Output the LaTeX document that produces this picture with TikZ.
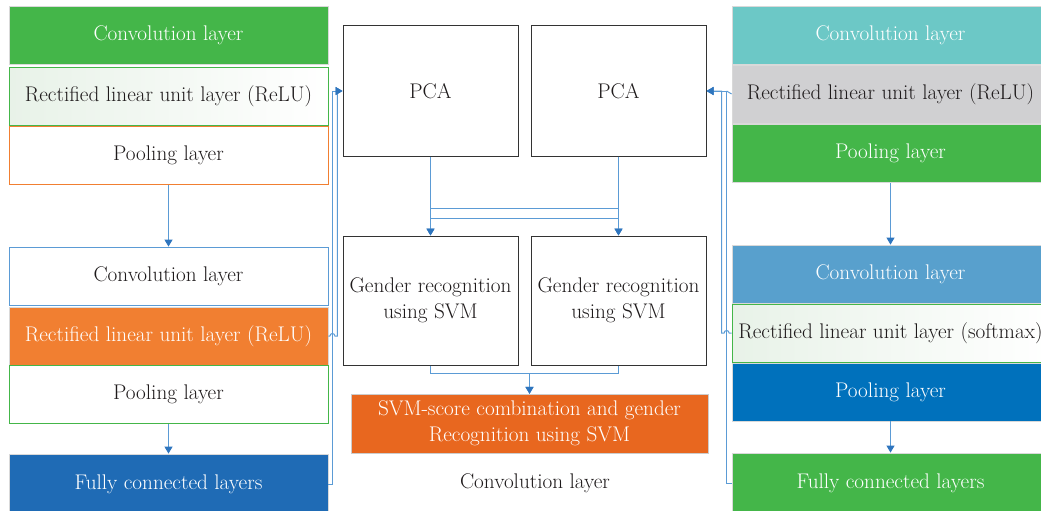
\documentclass[tikz,border=0pt]{standalone}
\usetikzlibrary{arrows.meta}
\definecolor{cgreen}{RGB}{68,182,73}
\definecolor{corange}{RGB}{241,127,49}
\definecolor{cdblue}{RGB}{31,107,181}
\definecolor{cteal}{RGB}{108,200,198}
\definecolor{cgrey}{RGB}{208,208,210}
\definecolor{cmblue}{RGB}{88,160,205}
\definecolor{cpblue}{RGB}{0,113,188}
\definecolor{ccomb}{RGB}{232,103,31}
\definecolor{cline}{RGB}{91,155,213}
\definecolor{carrow}{RGB}{46,117,190}
\definecolor{ctext}{RGB}{30,26,27}
\definecolor{cpale}{RGB}{232,242,232}
\tikzset{
  lay/.style={minimum width=319pt, minimum height=58pt, inner sep=0pt, text=ctext, draw=#1, line width=0.8pt, font=\fontsize{21.2}{26}\selectfont},
  lay/.default=black!15,
  wt/.style={text=white},
  mbox/.style={draw=black!80, line width=1pt, minimum width=175pt, minimum height=130pt, inner sep=0pt, text=ctext, align=center, font=\fontsize{21.2}{26}\selectfont},
  con/.style={draw=cline, line width=1pt, arrows={-{Triangle[width=8pt,length=7pt,color=carrow]}}},
  pl/.style={draw=cline, line width=1pt}
}
\begin{document}
\begin{tikzpicture}[x=1pt,y=-1pt]
\useasboundingbox (0,0) rectangle (1041,511);
% left column
\node[lay, fill=cgreen, wt] (lc1) at (168.5,35.5) {Convolution layer};
\node[lay=cgreen, left color=cpale, right color=white] (lr1) at (168.5,96.5) {Rectified linear unit layer (ReLU)};
\node[lay=corange, fill=white] (lp1) at (168.5,155.5) {Pooling layer};
\node[lay=cline, fill=white] (lc2) at (168.5,276) {Convolution layer};
\node[lay, fill=corange, wt] (lr2) at (168.5,336) {Rectified linear unit layer (ReLU)};
\node[lay=cgreen, fill=white] (lp2) at (168.5,394.5) {Pooling layer};
\node[lay, fill=cdblue, wt, minimum height=60pt] (lf) at (168.5,484) {Fully connected layers};
% right column
\node[lay, fill=cteal, wt, minimum width=317pt] (rc1) at (890.5,35.5) {Convolution layer};
\node[lay, fill=cgrey, minimum width=317pt] (rr1) at (890.5,94) {Rectified linear unit layer (ReLU)};
\node[lay, fill=cgreen, wt, minimum width=317pt] (rp1) at (890.5,153.5) {Pooling layer};
\node[lay, fill=cmblue, wt, minimum width=317pt] (rc2) at (890.5,274) {Convolution layer};
\node[lay=cgreen, left color=cpale, right color=white, minimum width=317pt] (rr2) at (890.5,333) {Rectified linear unit layer (softmax)};
\node[lay, fill=cpblue, wt, minimum width=317pt] (rp2) at (890.5,392) {Pooling layer};
\node[lay, fill=cgreen, wt, minimum width=317pt, minimum height=60pt] (rf) at (890.5,483) {Fully connected layers};
% middle
\node[mbox] (pca1) at (430.5,91) {PCA};
\node[mbox] (pca2) at (618.5,91) {PCA};
\node[mbox, minimum height=129pt] (gr1) at (430.5,300.5) {Gender recognition\\using SVM};
\node[mbox, minimum height=129pt] (gr2) at (618.5,300.5) {Gender recognition\\using SVM};
\node[draw=black!20, fill=ccomb, text=white, minimum width=357pt, minimum height=59pt, inner sep=0pt, align=center, font=\fontsize{21.2}{26}\selectfont] (comb) at (529.5,423.5) {SVM-score combination and gender\\Recognition using SVM};
\node[text=ctext, font=\fontsize{21.2}{26}\selectfont] (cap) at (535,483) {Convolution layer};
% connectors left column
\draw[con] (lp1.south) -- (lc2.north);
\draw[con] (lp2.south) -- (lf.north);
\draw[con] (lf.east) -- ++(4,0) |- (pca1.west);
\draw[con] (lr2.east) -- ++(1.5,0) arc(180:360:2.5) -- ++(2.5,0) |- (pca1.west);
% connectors right column
\draw[con] (rp1.south) -- (rc2.north);
\draw[con] (rp2.south) -- (rf.north);
\draw[pl] (rr1.west) -- ++(-5,-3);
\draw[con] (rf.west) -- ++(-5,0) |- (pca2.east);
\draw[con] (rr2.west) -- ++(-2.5,0) arc(0:-180:2.5) -- ++(-2.5,0) |- (pca2.east);
% middle connectors
\draw[con] (pca1.south) -- (gr1.north);
\draw[con] (pca2.south) -- (gr2.north);
\draw[con] (pca1.south) -- ++(0,62) -| (gr2.north);
\draw[con] (pca2.south) -- ++(0,52) -| (gr1.north);
\draw[con] (gr1.south) -- ++(0,8) -| (comb.north);
\draw[con] (gr2.south) -- ++(0,8) -| (comb.north);
\end{tikzpicture}
\end{document}
